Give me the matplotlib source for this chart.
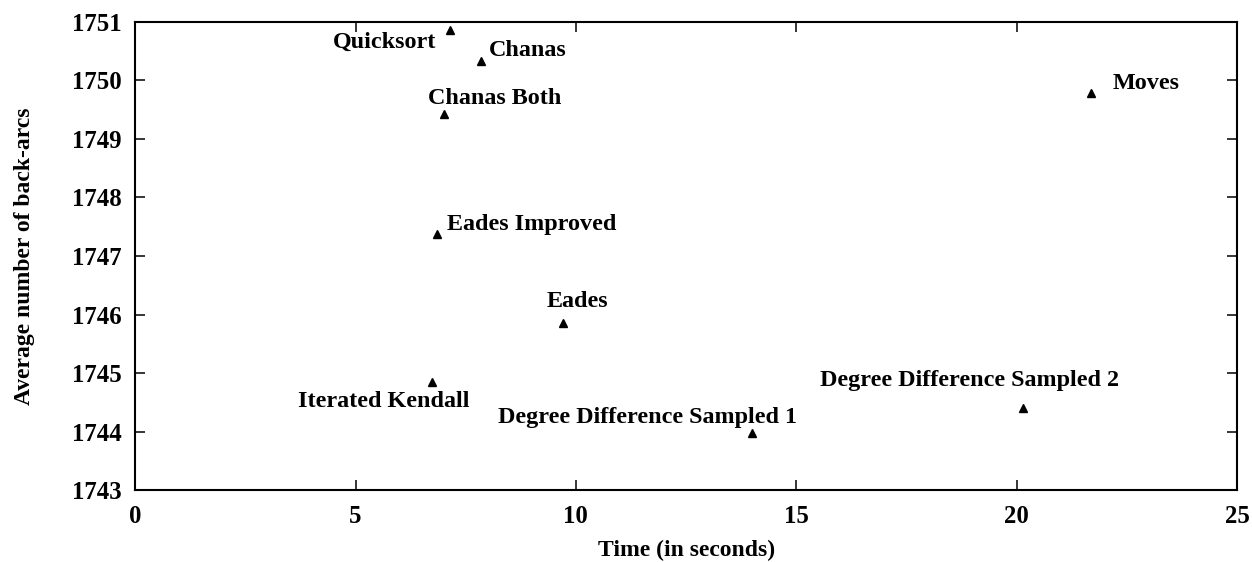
import matplotlib
matplotlib.use("Agg")
import matplotlib.pyplot as plt

plt.rcParams.update({
    "font.family": ["Liberation Serif", "DejaVu Serif"],
    "font.weight": "bold",
    "axes.labelweight": "bold",
})

# heuristics, time (s) vs. average back-arcs
names = ["Quicksort", "Chanas", "Chanas Both", "Moves", "Eades Improved",
         "Eades", "Iterated Kendall", "Degree Difference Sampled 1",
         "Degree Difference Sampled 2"]
time_s = [7.14, 7.84, 7.00, 21.68, 6.84, 9.70, 6.73, 14.00, 20.14]
back_arcs = [1750.86, 1750.34, 1749.42, 1749.78, 1747.38, 1745.86,
             1744.84, 1743.97, 1744.41]

# label placement (offset in pixels, horizontal alignment)
label_pos = [(-14, -12, "right"), (8, 10, "left"), (51, 16, "center"),
             (22, 10, "left"), (10, 9, "left"), (15, 21, "center"),
             (-48, -19, "center"), (-105, 16, "center"), (-53, 27, "center")]

fig = plt.figure(figsize=(12.52, 5.62), dpi=100)
ax = fig.add_axes([0.108, 0.128, 0.880, 0.833])

ax.plot(time_s, back_arcs, "^", color="black", markersize=6, linestyle="none")
for n, x, y, (dx, dy, ha) in zip(names, time_s, back_arcs, label_pos):
    ax.annotate(n, (x, y), xytext=(dx, dy), textcoords="offset pixels",
                ha=ha, va="center", fontsize=17.4, fontweight="bold")

ax.set_xlim(0, 25)
ax.set_ylim(1743, 1751)
ax.set_xticks(range(0, 26, 5))
ax.set_yticks(range(1743, 1752))
ax.tick_params(direction="in", length=7.5, width=1.1, top=True, right=True,
               labelsize=17.8, pad=10)
ax.tick_params(axis="x", pad=11)
for s in ax.spines.values():
    s.set_linewidth(1.5)

ax.set_xlabel("Time (in seconds)", fontsize=17, labelpad=8)
ax.set_ylabel("Average number of back-arcs", fontsize=17, labelpad=26)

fig.savefig("out.png", dpi=100)
